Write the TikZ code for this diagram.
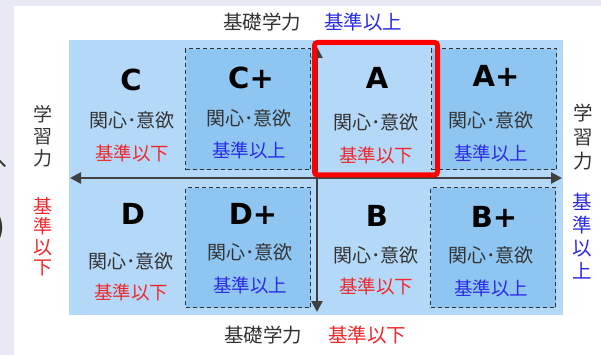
\documentclass[tikz,border=0pt]{standalone}
\usepackage{fontspec}
\newfontfamily\jp{Noto Sans CJK JP}
\newfontfamily\lat{DejaVu Sans}
\usetikzlibrary{arrows.meta}
\definecolor{bgl}{HTML}{E9E9F5}
\definecolor{cellA}{HTML}{B4D9F8}
\definecolor{cellB}{HTML}{8EC6F1}
\definecolor{ink}{HTML}{333333}
\definecolor{jred}{HTML}{F0282D}
\definecolor{jblue}{HTML}{2B2BE6}
\definecolor{axis}{HTML}{404040}
\begin{document}
\begin{tikzpicture}[x=1pt,y=-1pt,
  letter/.style={font=\lat\bfseries\fontsize{29}{29}\selectfont, text=black, inner sep=0},
  kanshin/.style={font=\jp\fontsize{19}{19}\selectfont, text=ink, inner sep=0},
  redtxt/.style={font=\jp\fontsize{18.5}{18}\selectfont, text=jred, inner sep=0},
  bluetxt/.style={font=\jp\fontsize{18.5}{18}\selectfont, text=jblue, inner sep=0},
  axlabel/.style={font=\jp\fontsize{19.5}{20}\selectfont, inner sep=0},
  vlabel/.style={font=\jp\fontsize{19}{22}\selectfont, align=center, inner sep=0},
  dbox/.style={fill=cellB, draw=ink, dash pattern=on 4pt off 3pt, line width=1.3pt, inner sep=0, anchor=north west},
  axisarrow/.style={draw=axis, line width=2.4pt, {Triangle[length=11pt,width=11pt]}-{Triangle[length=11pt,width=11pt]}},
  hilite/.style={draw=red, line width=5pt, rounded corners=3pt, inner sep=0}
]
\useasboundingbox (0,0) rectangle (601,355);
\fill[bgl] (0,0) rectangle (601,355);
\fill[white] (14,6) rectangle (601,355);
% cut-off fragments on the left edge
\begin{scope}
  \clip (0,0) rectangle (14,355);
  \node[font=\jp\fontsize{22}{22}\selectfont, text=ink, inner sep=0] (fragA) at (-3,161) {へ};
  \node[font=\lat\fontsize{40}{40}\selectfont, text=ink, inner sep=0] (fragB) at (-2,228) {)};
\end{scope}
% grid
\node[fill=cellA, minimum width=494, minimum height=275, inner sep=0, anchor=north west] (grid) at (69,40) {};
\node[dbox, minimum width=125, minimum height=121] (cpbox) at (185,48) {};
\node[dbox, minimum width=125, minimum height=121] (apbox) at (431,48) {};
\node[dbox, minimum width=125, minimum height=120] (dpbox) at (185,187) {};
\node[dbox, minimum width=125, minimum height=120] (bpbox) at (430,187) {};
% axes
\coordinate (hL) at (70,178);
\coordinate (hR) at (562,178);
\coordinate (vT) at (317,47);
\coordinate (vB) at (317,312);
\draw[axisarrow] (hL) -- (hR);
\draw[axisarrow] (vT) -- (vB);
% highlight of A
\node[hilite, minimum width=123, minimum height=132.5] (hl) at (376,108.75) {};
% row 1
\node[letter] (C) at (131,80) {C};
\node[kanshin] (Ck) at (132,120) {関心･意欲};
\node[redtxt] (Cs) at (132,153) {基準以下};
\node[letter] (Cp) at (251,78) {C+};
\node[kanshin] (Cpk) at (249,118) {関心･意欲};
\node[bluetxt] (Cps) at (249,150) {基準以上};
\node[letter] (A) at (377,78) {A};
\node[kanshin] (Ak) at (376,122) {関心･意欲};
\node[redtxt] (As) at (376,155) {基準以下};
\node[letter] (Ap) at (496,76) {A+};
\node[kanshin] (Apk) at (491,120) {関心･意欲};
\node[bluetxt] (Aps) at (491,153) {基準以上};
% row 2
\node[letter] (D) at (133,214) {D};
\node[kanshin] (Dk) at (131,261) {関心･意欲};
\node[redtxt] (Ds) at (131,292) {基準以下};
\node[letter] (Dp) at (253,214) {D+};
\node[kanshin] (Dpk) at (250,252) {関心･意欲};
\node[bluetxt] (Dps) at (250,285) {基準以上};
\node[letter] (B) at (377,216) {B};
\node[kanshin] (Bk) at (376,255) {関心･意欲};
\node[redtxt] (Bs) at (376,286) {基準以下};
\node[letter] (Bp) at (494,217) {B+};
\node[kanshin] (Bpk) at (491,255) {関心･意欲};
\node[bluetxt] (Bps) at (491,288) {基準以上};
% axis labels
\node[axlabel, text=ink] (topL) at (262,22) {基礎学力};
\node[axlabel, text=jblue] (topR) at (363,22) {基準以上};
\node[axlabel, text=ink] (botL) at (263,335) {基礎学力};
\node[axlabel, text=jred] (botR) at (367,335) {基準以下};
\node[vlabel, text=ink] (leftA) at (43,136) {学\\習\\力};
\node[vlabel, text=jred, font=\jp\fontsize{19}{20.5}\selectfont] (leftB) at (43,237) {基\\準\\以\\下};
\node[vlabel, text=ink, font=\jp\fontsize{19.5}{24}\selectfont] (rightA) at (583,137) {学\\習\\力};
\node[vlabel, text=jblue, font=\jp\fontsize{19.5}{23}\selectfont] (rightB) at (582,236) {基\\準\\以\\上};
\end{tikzpicture}
\end{document}
